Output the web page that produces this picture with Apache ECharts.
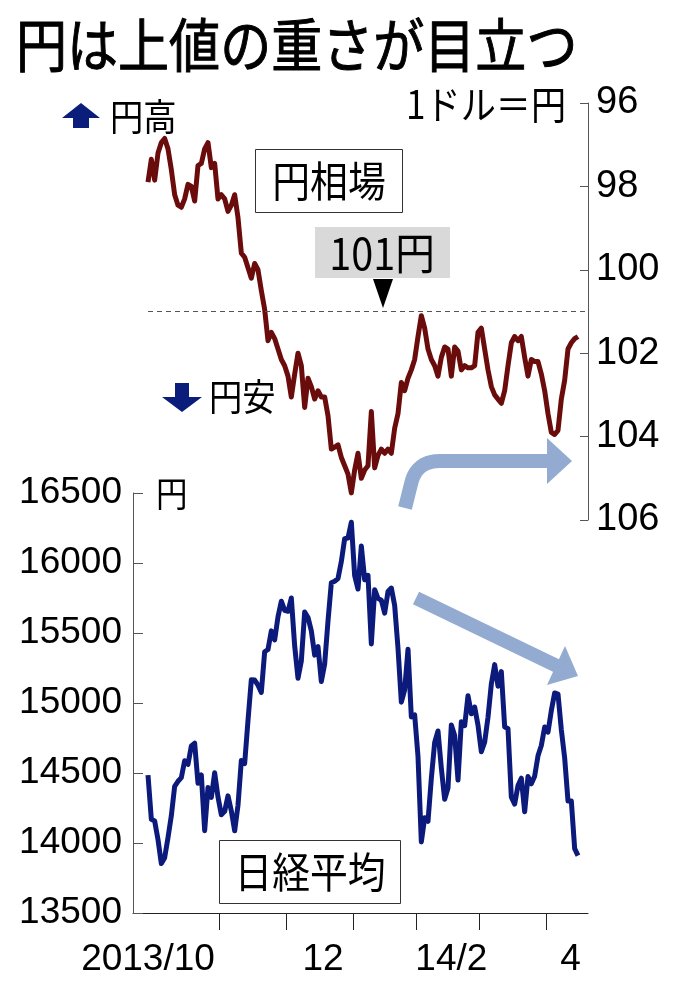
<!DOCTYPE html>
<html><head><meta charset="utf-8">
<script src="https://cdn.jsdelivr.net/npm/echarts@6/dist/echarts.min.js"></script>
<style>html,body{margin:0;padding:0;background:#fff}#c{width:680px;height:998px}</style>
</head><body><div id="c"></div>
<script>
// trading days (Tokyo), Oct 2013 - Apr 2014
const dates = [
'2013-10-01','2013-10-02','2013-10-03','2013-10-04','2013-10-07','2013-10-08','2013-10-09','2013-10-10','2013-10-11','2013-10-15','2013-10-16','2013-10-17','2013-10-18','2013-10-21','2013-10-22','2013-10-23','2013-10-24','2013-10-25','2013-10-28','2013-10-29','2013-10-30','2013-10-31',
'2013-11-01','2013-11-05','2013-11-06','2013-11-07','2013-11-08','2013-11-11','2013-11-12','2013-11-13','2013-11-14','2013-11-15','2013-11-18','2013-11-19','2013-11-20','2013-11-21','2013-11-22','2013-11-25','2013-11-26','2013-11-27','2013-11-28','2013-11-29',
'2013-12-02','2013-12-03','2013-12-04','2013-12-05','2013-12-06','2013-12-09','2013-12-10','2013-12-11','2013-12-12','2013-12-13','2013-12-16','2013-12-17','2013-12-18','2013-12-19','2013-12-20','2013-12-24','2013-12-25','2013-12-26','2013-12-27','2013-12-30',
'2014-01-06','2014-01-07','2014-01-08','2014-01-09','2014-01-10','2014-01-14','2014-01-15','2014-01-16','2014-01-17','2014-01-20','2014-01-21','2014-01-22','2014-01-23','2014-01-24','2014-01-27','2014-01-28','2014-01-29','2014-01-30','2014-01-31',
'2014-02-03','2014-02-04','2014-02-05','2014-02-06','2014-02-07','2014-02-10','2014-02-12','2014-02-13','2014-02-14','2014-02-17','2014-02-18','2014-02-19','2014-02-20','2014-02-21','2014-02-24','2014-02-25','2014-02-26','2014-02-27','2014-02-28',
'2014-03-03','2014-03-04','2014-03-05','2014-03-06','2014-03-07','2014-03-10','2014-03-11','2014-03-12','2014-03-13','2014-03-14','2014-03-17','2014-03-18','2014-03-19','2014-03-20','2014-03-24','2014-03-25','2014-03-26','2014-03-27','2014-03-28','2014-03-31',
'2014-04-01','2014-04-02','2014-04-03','2014-04-04','2014-04-07','2014-04-08','2014-04-09','2014-04-10','2014-04-11','2014-04-14'
];
// 円相場 (1ドル=円)
const yen = [
97.9,97.35,97.85,97.2,96.95,96.85,97.1,97.6,98.2,98.45,98.5,98.3,97.95,98.0,98.35,97.5,97.45,97.1,96.95,97.55,97.45,98.3,
98.2,98.3,98.6,98.45,98.2,98.75,99.6,99.7,99.95,100.2,99.85,100.0,100.5,100.95,101.7,101.5,101.65,101.9,102.15,102.3,
102.55,103.05,102.5,102.0,102.3,103.3,102.6,102.8,103.1,102.9,103.05,103.05,103.5,104.3,104.25,104.2,104.5,104.7,104.9,105.35,
104.8,104.4,105.0,104.8,104.7,103.4,104.75,104.45,104.3,104.4,104.3,104.4,103.8,103.45,102.7,102.9,102.6,102.4,102.15,
101.6,101.1,101.4,101.9,102.15,102.3,102.55,102.1,101.85,101.9,102.55,101.85,101.95,102.4,102.3,102.35,102.35,102.3,101.5,
101.4,101.9,102.4,102.8,103.0,103.1,103.2,102.9,102.3,101.75,101.6,101.7,101.6,102.1,102.55,102.15,102.2,102.2,102.5,102.9,
103.45,103.9,103.95,103.85,103.1,102.65,101.9,101.75,101.65,101.6
];
// 日経平均 (円)
const nikkei = [
14485,14170,14157,14024,13853,13895,14038,14195,14405,14441,14467,14587,14562,14694,14713,14426,14486,14088,14396,14326,14502,14328,
14202,14226,14337,14229,14087,14270,14589,14567,14876,15166,15164,15127,15076,15366,15382,15515,15450,15616,15727,15662,
15655,15750,15408,15177,15300,15650,15611,15515,15342,15403,15153,15279,15586,15859,15870,15889,16010,16174,16179,16291,
15909,15814,16121,15880,15912,15422,15809,15747,15734,15642,15796,15821,15696,15392,15006,15094,15384,14900,14915,
14619,14008,14180,14155,14462,14718,14800,14535,14313,14393,14843,14767,14450,14866,14838,15052,14923,14971,14841,
14652,14721,14898,15135,15274,15120,15224,14830,14816,14328,14278,14411,14463,14224,14475,14423,14477,14623,14696,14828,
14792,14946,15072,15064,14809,14607,14300,14300,13960,13910
];
const labelMonths = ['2013-10','2013-12','2014-02','2014-04'];
const labelTexts = ['2013/10','12','14/2','4'];
const refYen = 101;

const X_MIN = -4.5, X_MAX = 132;
// month boundaries (between last day of a month and first day of next)
const monthTicks = [];
dates.forEach((d, i) => { if (i > 0 && d.slice(0,7) !== dates[i-1].slice(0,7)) monthTicks.push(i - 0.5); });
// label positions: centre of each month's span
const labelPos = labelMonths.map((m, k) => {
  const idx = dates.map((d,i)=>d.slice(0,7)===m?i:-1).filter(i=>i>=0);
  const s = idx[0] - 0.5, e = (idx[idx.length-1] === dates.length-1) ? X_MAX : idx[idx.length-1] + 0.5;
  return k === 0 ? 0 : (s + e) / 2 + 1;   // first (long) label sits left of its month
});

const NUM = 'Liberation Sans';
const JP = '"Noto Sans CJK JP"';
const ARROW = '#93abd0';

function jtext(txt, x, y, size, align, opts) {
  return Object.assign({type:'text', x:x, y:y, scaleX:0.9, silent:true, z:20,
    style:{text:txt, fontSize:size, fontFamily:JP, fill:'#000', align:align||'left', verticalAlign:'middle'}}, opts||{});
}
// curved arrow centre line (decoration): short slanted stem, quarter bend, horizontal run
function curvePts() {
  const pts = [[405,508],[411,484]];
  const p0=[411,484], c=[416,461], p1=[440,461];
  for (let t=0.1; t<=1.0001; t+=0.1) {
    const a=(1-t)*(1-t), b=2*(1-t)*t, d=t*t;
    pts.push([a*p0[0]+b*c[0]+d*p1[0], a*p0[1]+b*c[1]+d*p1[1]]);
  }
  pts.push([549,461]);
  return pts;
}

const chart = echarts.init(document.getElementById('c'), null, {renderer:'canvas'});
chart.setOption({
  animation:false,
  grid:[{left:133, right:92, top:103, height:417},{left:133, right:92, top:493, height:420}],
  xAxis:[
    {gridIndex:0, type:'value', min:X_MIN, max:X_MAX, show:false},
    {gridIndex:1, type:'value', min:X_MIN, max:X_MAX,
     axisLine:{show:true, onZero:false, lineStyle:{color:'#222', width:1}},
     axisTick:{show:true, inside:false, length:17, customValues:monthTicks, lineStyle:{color:'#222'}},
     axisLabel:{show:true, customValues:labelPos, margin:28, fontSize:37, fontFamily:NUM, color:'#000', lineHeight:37,
       formatter:(v)=>{ const k = labelPos.indexOf(v); return k>=0 ? labelTexts[k] : ''; }},
     splitLine:{show:false}}
  ],
  yAxis:[
    {gridIndex:0, type:'value', position:'right', inverse:true, min:96, max:106, interval:2,
     axisLine:{show:true, onZero:false, lineStyle:{color:'#555'}},
     axisTick:{show:true, inside:true, length:8, lineStyle:{color:'#555'}},
     axisLabel:{margin:8, fontSize:38, fontFamily:NUM, color:'#000', formatter:(v)=>String(v)},
     splitLine:{show:false}},
    {gridIndex:1, type:'value', position:'left', min:13500, max:16500, interval:500,
     axisLine:{show:true, onZero:false, lineStyle:{color:'#555'}},
     axisTick:{show:true, inside:true, length:10, lineStyle:{color:'#555'}},
     axisLabel:{margin:11, fontSize:37, fontFamily:NUM, color:'#000', formatter:(v)=>String(v)},
     splitLine:{show:false}}
  ],
  series:[
    {type:'line', name:'円相場', xAxisIndex:0, yAxisIndex:0, data:yen.map((v,i)=>[i,v]),
     showSymbol:false, symbol:'none', lineStyle:{color:'#6b0c0c', width:5, join:'round'},
     markLine:{silent:true, symbol:'none', label:{show:false},
       lineStyle:{color:'#555', width:1, type:[5,4]},
       data:[[{coord:[0, refYen]},{coord:[X_MAX, refYen]}]]}},
    {type:'line', name:'日経平均', xAxisIndex:1, yAxisIndex:1, data:nikkei.map((v,i)=>[i,v]),
     showSymbol:false, symbol:'none', lineStyle:{color:'#0c1a7c', width:5, join:'round'}}
  ],
  graphic:[
    // title
    {type:'text', x:16, y:45, scaleX:0.88, silent:true,
     style:{text:'円は上値の重さが目立つ', fontSize:58, fontWeight:'normal', fontFamily:JP, fill:'#000', align:'left', verticalAlign:'middle', stroke:'#000', lineWidth:1}},
    // 円高 arrow + label
    {type:'polygon', silent:true, shape:{points:[[81,103],[100,118],[89,118],[89,128],[73,128],[73,118],[62,118]]}, style:{fill:'#0b1d7a'}},
    jtext('円高', 110, 117, 37, 'left'),
    // unit of yen axis
    jtext('1ドル＝円', 566, 104, 39, 'right'),
    // 円安 arrow + label
    {type:'polygon', silent:true, shape:{points:[[175,383],[189,383],[189,397],[202,397],[182,412],[162,397],[175,397]]}, style:{fill:'#0b1d7a'}},
    jtext('円安', 209, 397, 37, 'left'),
    // 円相場 box
    {type:'rect', silent:true, z:10, shape:{x:255.5, y:149.5, width:147, height:63}, style:{fill:'#fff', stroke:'#333', lineWidth:1}},
    jtext('円相場', 329, 181, 42, 'center'),
    // 101円 box + marker
    {type:'rect', silent:true, z:10, shape:{x:315, y:227, width:135, height:51}, style:{fill:'#d9d9d9'}},
    jtext('101円', 382, 253, 44, 'center'),
    {type:'polygon', silent:true, z:10, shape:{points:[[373,279],[393,279],[383,308]]}, style:{fill:'#000'}},
    // Nikkei unit
    jtext('円', 156, 494, 35, 'left'),
    // 日経平均 box
    {type:'rect', silent:true, z:10, shape:{x:219.5, y:840.5, width:181, height:63}, style:{fill:'#fff', stroke:'#333', lineWidth:1}},
    jtext('日経平均', 310, 872, 42, 'center'),
    // curved arrow (yen)
    {type:'polyline', silent:true, z:5, shape:{points:curvePts()}, style:{fill:null, stroke:ARROW, lineWidth:14, lineJoin:'round'}},
    {type:'polygon', silent:true, z:5, shape:{points:[[547,438],[572,461],[547,484]]}, style:{fill:ARROW}},
    // straight arrow (nikkei)
    {type:'line', silent:true, z:5, shape:{x1:416, y1:598, x2:557, y2:666}, style:{stroke:ARROW, lineWidth:14}},
    {type:'polygon', silent:true, z:5, shape:{points:[[565,646],[578,676],[547,685]]}, style:{fill:ARROW}}
  ]
});
</script>
</body></html>
